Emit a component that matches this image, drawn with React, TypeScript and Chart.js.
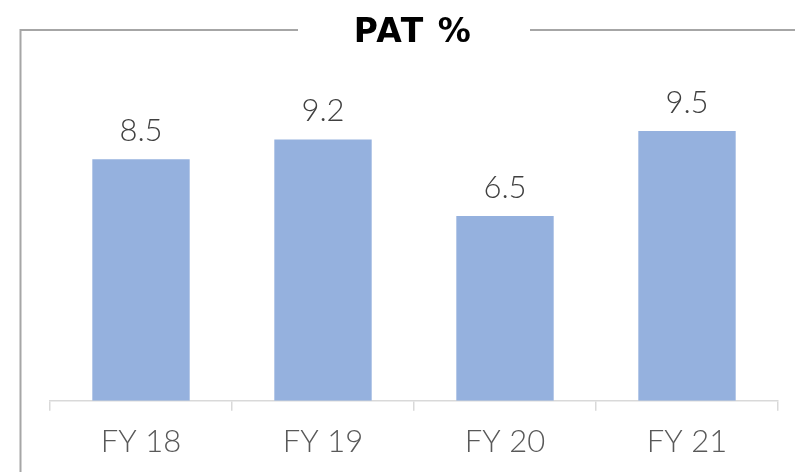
import React, { useEffect, useRef } from "react";
import { Chart, registerables } from "chart.js";

Chart.register(...registerables);

const categories = ["FY 18", "FY 19", "FY 20", "FY 21"];
const patValues = [8.5, 9.2, 6.5, 9.5];
const chartTitle = "PAT %";

const framePlugin = {
  id: "framePlugin",
  beforeDraw(chart: any) {
    const ctx = chart.ctx;
    ctx.save();
    ctx.strokeStyle = "#a6a6a6";
    ctx.lineWidth = 2;
    ctx.beginPath();
    ctx.moveTo(20.5, 472);
    ctx.lineTo(20.5, 30);
    ctx.lineTo(298, 30);
    ctx.moveTo(530, 30);
    ctx.lineTo(795, 30);
    ctx.stroke();
    ctx.fillStyle = "#000000";
    ctx.font = "bold 33px 'DejaVu Sans'";
    (ctx as any).letterSpacing = "1.5px";
    ctx.textAlign = "center";
    ctx.textBaseline = "alphabetic";
    ctx.fillText(chartTitle, 413, 41.5);
    (ctx as any).letterSpacing = "0px";
    ctx.restore();
  },
  afterDatasetsDraw(chart: any) {
    const ctx = chart.ctx;
    const meta = chart.getDatasetMeta(0);
    const data = chart.data.datasets[0].data;
    ctx.save();
    ctx.fillStyle = "#404040";
    ctx.font = "300 31px Lato";
    ctx.textAlign = "center";
    ctx.textBaseline = "alphabetic";
    meta.data.forEach((bar: any, i: number) => {
      ctx.fillText(String(data[i]), bar.x, bar.y - 18);
    });
    ctx.restore();
  },
};

export default function App() {
  const ref = useRef<HTMLCanvasElement>(null);
  useEffect(() => {
    if (!ref.current) return;
    const chart = new Chart(ref.current, {
      type: "bar",
      data: {
        labels: categories,
        datasets: [
          {
            data: patValues,
            backgroundColor: "#95b1de",
            categoryPercentage: 1,
            barPercentage: 0.535,
          },
        ],
      },
      options: {
        animation: false,
        responsive: false,
        devicePixelRatio: 1,
        layout: { padding: { left: 50, right: 17, top: 116.7, bottom: 0 } },
        plugins: { legend: { display: false }, tooltip: { enabled: false }, title: { display: false } },
        scales: {
          x: {
            afterFit: (s: any) => {
              s.height = 71.3;
            },
            border: { color: "#d9d9d9", width: 1.5 },
            grid: {
              display: true,
              drawOnChartArea: false,
              drawTicks: true,
              tickLength: 10,
              color: "#d9d9d9",
              lineWidth: 1.5,
              offset: true,
            },
            ticks: {
              color: "#595959",
              font: { family: "Lato", size: 31, weight: "300" as any },
              padding: 13,
              maxRotation: 0,
            },
          },
          y: {
            display: false,
            min: 0,
            max: 10,
          },
        },
      },
      plugins: [framePlugin],
    });
    return () => chart.destroy();
  }, []);
  return (
    <div style={{ position: "fixed", left: 0, top: 0, width: 795, height: 472, background: "#fff" }}>
      <canvas ref={ref} width={795} height={472} style={{ width: 795, height: 472, display: "block" }} />
    </div>
  );
}
